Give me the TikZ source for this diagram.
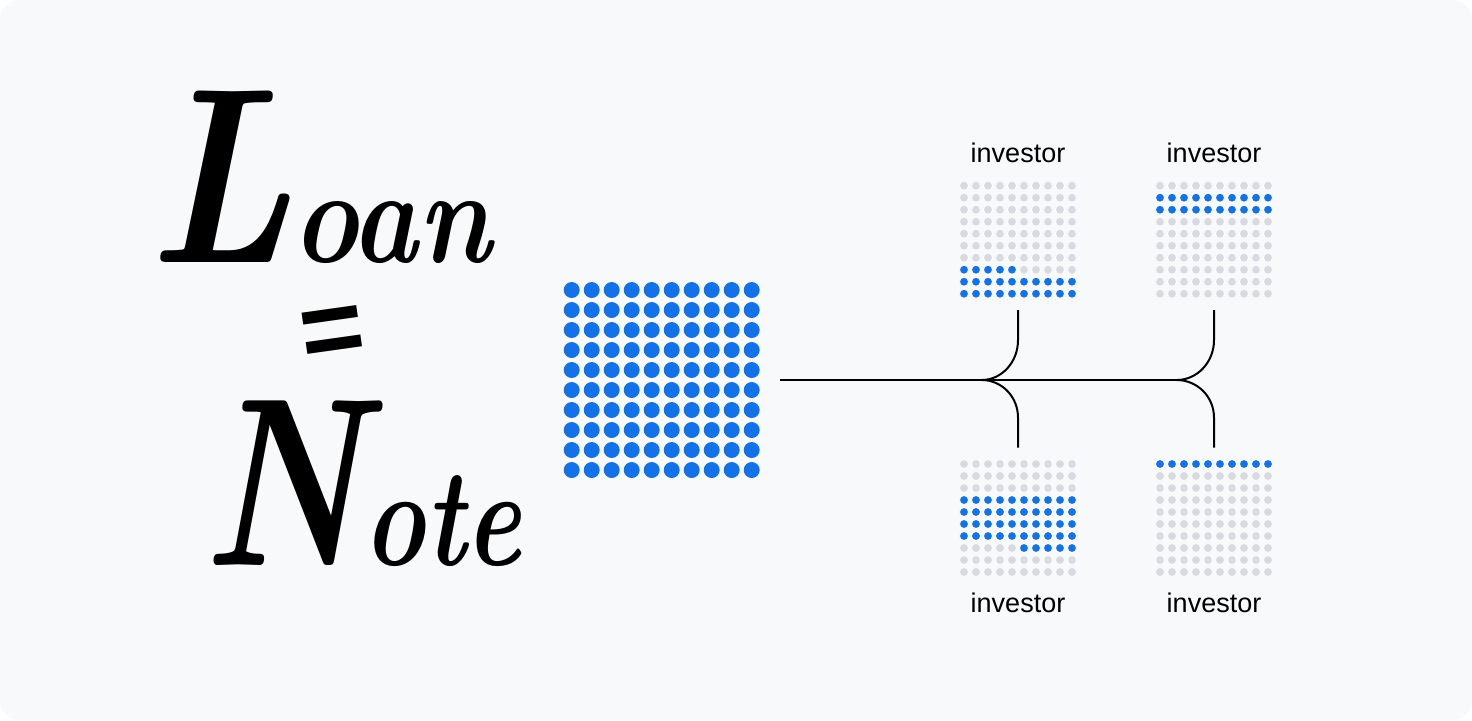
\documentclass[tikz,border=0pt]{standalone}
\usepackage{fontspec}
\newfontfamily\labelfont{Liberation Sans}
\definecolor{bgcol}{HTML}{F8F9FB}
\definecolor{dotblue}{RGB}{19,114,232}
\definecolor{dotgray}{HTML}{D8DAE0}
\newcommand\investordots[3]{%
  \foreach \j in {0,...,9}{\foreach \i in {0,...,9}{%
    \pgfmathtruncatemacro\isblue{#3}%
    \ifnum\isblue=1
      \fill[bluedot] ({#1+12*\i},{#2+12*\j}) circle[radius=3.9];
    \else
      \fill[graydot] ({#1+12*\i},{#2+12*\j}) circle[radius=3.9];
    \fi
  }}}
\begin{document}
\begin{tikzpicture}[x=0.5pt,y=-0.5pt,
  bluedot/.style={fill=dotblue},
  graydot/.style={fill=dotgray},
  link/.style={line width=1pt, black},
  script/.style={font=\bfseries\itshape, inner sep=0pt, text=black},
  invlabel/.style={font=\labelfont\fontsize{13.5}{15}\selectfont, inner sep=0pt, text=black},
  gridbox/.style={minimum width=58pt, minimum height=70pt, inner sep=0pt},
  bigbox/.style={minimum width=118.3pt, minimum height=100pt, inner sep=0pt}]
\useasboundingbox (0,0) rectangle (1472,720);
\fill[white] (0,0) rectangle (1472,720);
\fill[bgcol, rounded corners=10pt] (0,0) rectangle (1472,720);

% handwritten title
\node[script, anchor=base] (loan) at (319,262)
  {\scalebox{0.83}[1]{\fontsize{125}{125}\selectfont L\fontsize{67.5}{67.5}\selectfont oan}};
\node[inner sep=0pt, anchor=base, rotate=8, font=\labelfont\bfseries\fontsize{55}{55}\selectfont] (equals) at (337,366)
  {=};
\node[script, anchor=base] (notetxt) at (362,565)
  {\scalebox{0.75}[1]{\fontsize{120}{120}\selectfont N\fontsize{70}{70}\selectfont ote}};

% big note grid
\foreach \j in {0,...,9}{\foreach \i in {0,...,9}{%
  \fill[bluedot] ({571.7+20*\i},{290+20*\j}) circle[radius=8];
}}
\node[bigbox] (note) at (661.7,380) {};

% investor grids
\investordots{964}{185.7}{or(\j>7,and(\j==7,\i<5))}
\investordots{1160}{185.7}{and(\j>0,\j<3)}
\investordots{964}{464}{or(and(\j>2,\j<7),and(\j==7,\i>4))}
\investordots{1160}{464}{\j==0}
\node[gridbox] (inv1) at (1018,239.7) {};
\node[gridbox] (inv2) at (1214,239.7) {};
\node[gridbox] (inv3) at (1018,518) {};
\node[gridbox] (inv4) at (1214,518) {};

\node[invlabel, anchor=base] (lab1) at (1018,162.7) {investor};
\node[invlabel, anchor=base] (lab2) at (1214,162.7) {investor};
\node[invlabel, anchor=base] (lab3) at (1018,612.7) {investor};
\node[invlabel, anchor=base] (lab4) at (1214,612.7) {investor};

% connectors
\coordinate (j1) at (981.7,380);
\coordinate (j2) at (1176.7,380);
\draw[link] (note.east) -- (j2);
\draw[link] (inv1.south) -- ++(0,30) .. controls +(0,22) and +(20,0) .. (j1);
\draw[link] (inv3.north) -- ++(0,-30) .. controls +(0,-21) and +(20,0) .. (j1);
\draw[link] (inv2.south) -- ++(0,30) .. controls +(0,22) and +(20.6,0) .. (j2);
\draw[link] (inv4.north) -- ++(0,-30) .. controls +(0,-21) and +(20.6,0) .. (j2);
\end{tikzpicture}
\end{document}
